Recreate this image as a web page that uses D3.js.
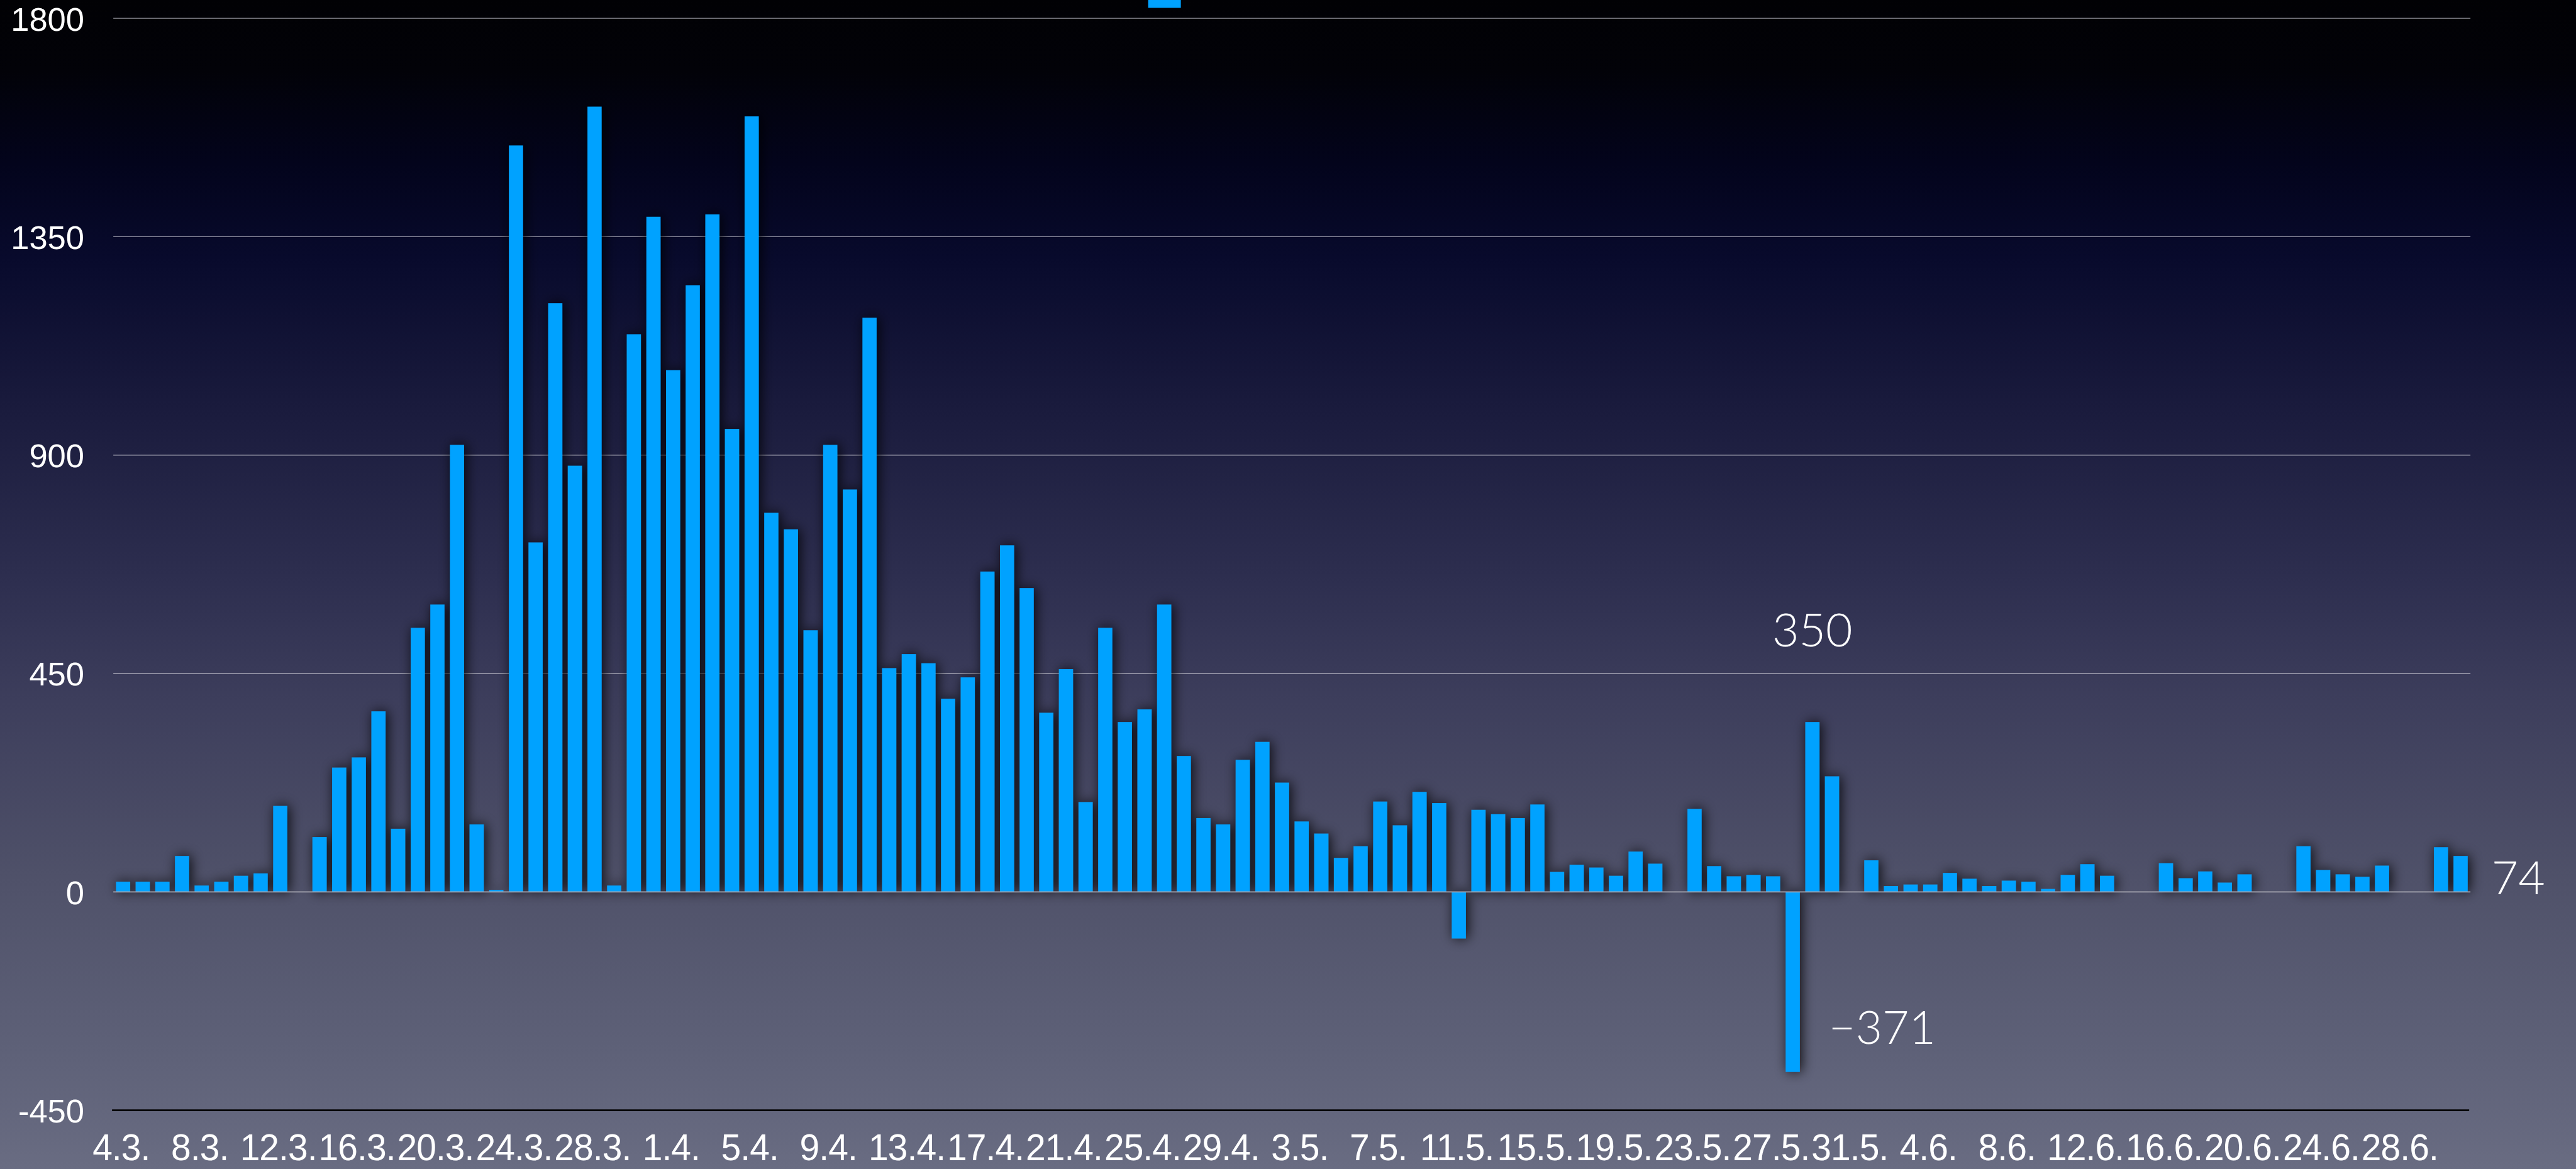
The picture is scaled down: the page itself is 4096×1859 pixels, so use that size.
<!DOCTYPE html>
<html>
<head>
<meta charset="utf-8">
<script src="https://cdn.jsdelivr.net/npm/d3@7/dist/d3.min.js"></script>
<style>
  body { margin: 0; background: #000; overflow: hidden; }
</style>
</head>
<body>
<div id="chart"></div>
<script>
// 1: DATA
// one bar per day, 4.3. to 1.7.
const startDay = new Date(2020, 2, 4);
const days = d3.timeDay.range(startDay, d3.timeDay.offset(startDay, 120));
const categories = days.map(d3.timeFormat("%-d.%-m."));

// daily values
const values = [
  21, 21, 21, 74, 13, 21, 33, 38, 177, 0, 113, 256, 277, 372, 130, 544, 592, 921, 139, 4,
  1538, 720, 1213, 878, 1618, 13, 1149, 1391, 1075, 1250, 1396, 954, 1598, 781, 747, 539, 921, 829, 1183, 461,
  490, 471, 398, 442, 660, 714, 626, 369, 459, 185, 544, 350, 376, 592, 280, 152, 139, 272, 309, 225,
  145, 120, 70, 94, 186, 137, 206, 183, -96, 169, 160, 152, 180, 41, 56, 50, 33, 83, 58, 0,
  171, 53, 32, 35, 32, -371, 350, 238, 0, 65, 12, 15, 15, 39, 27, 12, 23, 21, 6, 35,
  57, 33, 0, 0, 59, 28, 42, 19, 36, 0, 0, 94, 45, 36, 31, 54, 0, 0, 92, 74
];

const yTicks = [-450, 0, 450, 900, 1350, 1800];

// highlighted values: text and the day they belong to
const calloutText = ["350", "\u2212371", "74"];
const calloutDay = [86, 85, 119];

// 2: SVG
const k = 0.834; // reference -> window
const W = 4096, H = 1859;
const axisFont = "'Liberation Sans', Arial, sans-serif";

const svg = d3.select("#chart")
  .append("svg")
  .attr("width", W)
  .attr("height", H);

// background gradient
const defs = svg.append("defs");
const grad = defs.append("linearGradient")
  .attr("id", "bg")
  .attr("x1", 0).attr("y1", 0).attr("x2", 0).attr("y2", 1);
[
  [0, "#010104"], [0.06, "#020208"], [0.14, "#03041c"], [0.22, "#080a2c"], [0.35, "#1a1b3d"],
  [0.5, "#2e2f50"], [0.6, "#3d3e5c"], [0.75, "#4f5169"], [0.9, "#5e6178"], [1, "#696c82"]
].forEach(s => grad.append("stop").attr("offset", s[0]).attr("stop-color", s[1]));

// soft dark shadow behind the bars
const shadow = defs.append("filter")
  .attr("id", "shadow")
  .attr("x", "-5%").attr("y", "-5%").attr("width", "110%").attr("height", "110%");
shadow.append("feDropShadow")
  .attr("dx", 3).attr("dy", 0)
  .attr("stdDeviation", 10)
  .attr("flood-color", "#000")
  .attr("flood-opacity", 0.85);

svg.append("rect")
  .attr("width", W).attr("height", H)
  .attr("fill", "url(#bg)");

// 3: SCALES
const x = d3.scaleBand()
  .domain(categories)
  .range([216 * k, 4710 * k])
  .paddingInner(0.28)
  .paddingOuter(0.14);

const y = d3.scaleLinear()
  .domain([-450, 1800])
  .range([2117 * k, 35 * k]);

const left = x.range()[0], right = x.range()[1];

// 4: GRID + Y LABELS
svg.append("g")
  .selectAll("line")
  .data(yTicks.filter(d => d > 0))
  .enter()
  .append("line")
  .attr("x1", left).attr("x2", right)
  .attr("y1", d => y(d)).attr("y2", d => y(d))
  .attr("stroke", "rgba(210,210,220,0.7)")
  .attr("stroke-width", 1.3);

const yAxis = svg.append("g")
  .attr("transform", "translate(134,0)")
  .call(d3.axisLeft(y).tickValues(yTicks).tickSize(0).tickPadding(0).tickFormat(d => String(d)));
yAxis.select(".domain").remove();
yAxis.selectAll("text")
  .attr("fill", "#fff")
  .attr("font-family", axisFont)
  .attr("font-size", 52.5)
  .attr("dy", "0.36em");

// 5: BARS
svg.append("g")
  .attr("filter", "url(#shadow)")
  .selectAll("rect")
  .data(values)
  .enter()
  .append("rect")
  .attr("x", (d, i) => x(categories[i]))
  .attr("width", x.bandwidth())
  .attr("y", d => y(Math.max(0, d)))
  .attr("height", d => Math.abs(y(d) - y(0)))
  .attr("fill", "#00a2ff");

// zero line
svg.append("line")
  .attr("x1", left).attr("x2", right)
  .attr("y1", y(0)).attr("y2", y(0))
  .attr("stroke", "#a7a8b2")
  .attr("stroke-width", 1.7);

// 6: X AXIS (black line at the bottom, every 4th day labelled)
const xAxis = svg.append("g")
  .attr("transform", `translate(0,${y(-450)})`)
  .call(d3.axisBottom(x)
    .tickValues(categories.filter((d, i) => i % 4 === 0))
    .tickSize(0));
xAxis.select(".domain")
  .attr("stroke", "#000")
  .attr("stroke-width", 2.6)
  .attr("d", `M${left - 2},0H${right - 2}`);
xAxis.selectAll("text")
  .attr("fill", "#fff")
  .attr("font-family", axisFont)
  .attr("font-size", 60)
  .attr("letter-spacing", -1)
  .attr("y", 1845 - y(-450))
  .attr("dy", null)
  .attr("transform", "translate(-3,0) scale(0.95,1)");

// 7: CALLOUTS
const calloutFont = "'Helvetica Neue', Lato, Inter, Roboto, sans-serif";
const cx = i => x(categories[calloutDay[i]]);

svg.append("text") // above the bar
  .attr("x", cx(0) + x.bandwidth() / 2)
  .attr("y", y(values[calloutDay[0]]) - 120)
  .attr("text-anchor", "middle")
  .text(calloutText[0]);

svg.append("text") // beside the negative bar
  .attr("x", cx(1) + x.bandwidth() + 46)
  .attr("y", y(values[calloutDay[1]]) - 45)
  .text(calloutText[1]);

svg.append("text") // after the last bar
  .attr("x", cx(2) + x.bandwidth() + 38)
  .attr("y", y(0) + 3.5)
  .text(calloutText[2]);

svg.selectAll("svg > text")
  .attr("fill", "#fff")
  .attr("font-family", calloutFont)
  .attr("font-weight", 300)
  .attr("font-size", 73.4);

// legend swatch, cut off by the top edge
svg.append("rect")
  .attr("x", 2189 * k)
  .attr("y", 15 * k - 52)
  .attr("width", 52)
  .attr("height", 52)
  .attr("fill", "#00a2ff");
</script>
</body>
</html>
